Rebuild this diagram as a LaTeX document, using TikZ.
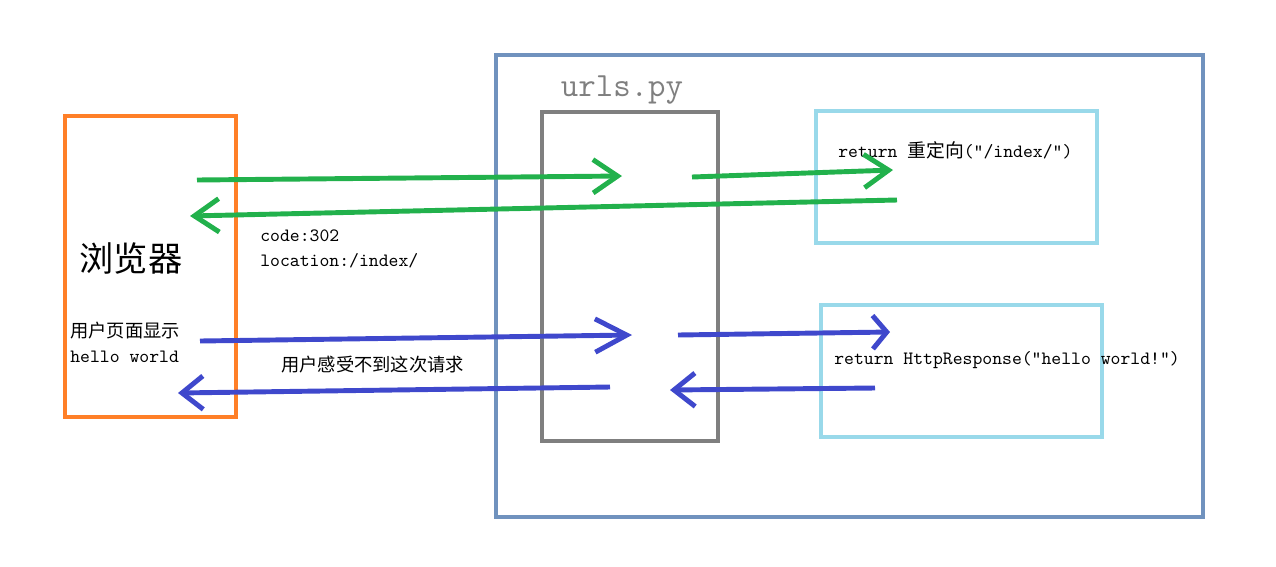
\documentclass[tikz,border=0pt]{standalone}
\usepackage{fontspec}
\setmainfont{Latin Modern Mono}
\newfontfamily\cjk{Noto Sans CJK SC}
\usetikzlibrary{arrows.meta}
\definecolor{browserorange}{RGB}{255,127,39}
\definecolor{serverblue}{RGB}{112,146,190}
\definecolor{urlsgray}{RGB}{127,127,127}
\definecolor{viewcyan}{RGB}{153,217,234}
\definecolor{redirgreen}{RGB}{34,177,76}
\definecolor{respblue}{RGB}{63,72,204}
\tikzset{
  frame/.style={draw=#1, line width=2.3pt},
  label/.style={anchor=west, inner sep=0pt, font=\fontsize{10.7}{12}\selectfont},
  greenarrow/.style={draw=redirgreen, line width=2.8pt,
    -{Straight Barb[length=#1, width=19pt]}},
  greenarrow/.default=14pt,
  bluearrow/.style={draw=respblue, line width=2.8pt,
    -{Straight Barb[length=#1, width=19pt]}},
  bluearrow/.default=12pt
}
\begin{document}
\begin{tikzpicture}[x=0.02cm, y=-0.02cm]
  \useasboundingbox (0,0) rectangle (1276,566);
  % boxes
  \draw[frame=serverblue] (496,55) rectangle (1203,517);
  \draw[frame=browserorange] (65,116) rectangle (236,417);
  \draw[frame=urlsgray] (542,112) rectangle (718,441);
  \draw[frame=viewcyan] (816,111) rectangle (1097,243);
  \draw[frame=viewcyan] (821,305) rectangle (1102,437);
  % texts
  \node[text=urlsgray, font=\fontsize{19.3}{22}\selectfont] (urls) at (622,90) {urls.py};
  \node[font=\cjk\fontsize{19.5}{22}\selectfont] (browser) at (131,258) {浏览器};
  \node[label, font=\cjk\fontsize{10.4}{12}\selectfont] (userpage) at (70,331) {用户页面显示};
  \node[label] (hello) at (70,357) {hello world};
  \node[label] (code) at (260,236) {code:302};
  \node[label] (location) at (260,261) {location:/index/};
  \node[label, font=\cjk\fontsize{10.4}{12}\selectfont] (unaware) at (281,365) {用户感受不到这次请求};
  \node[label] (redirect) at (838,150) {return {\cjk 重定向}(”/index/”)};
  \node[label] (response) at (834,360) {return HttpResponse(”hello world!”)};
  % arrow ends
  \coordinate (g1s) at (197,180);
  \coordinate (g1e) at (622,176);
  \coordinate (g2s) at (692,177);
  \coordinate (g2e) at (893,170);
  \coordinate (g3s) at (897,200);
  \coordinate (g3e) at (190,216);
  \coordinate (b1s) at (200,341);
  \coordinate (b1e) at (632,335);
  \coordinate (b2s) at (678,335);
  \coordinate (b2e) at (890,332);
  \coordinate (b3s) at (875,388);
  \coordinate (b3e) at (670,390);
  \coordinate (b4s) at (610,387);
  \coordinate (b4e) at (178,393);
  % redirect round trip
  \draw[greenarrow] (g1s) -- (g1e);
  \draw[greenarrow] (g2s) -- (g2e);
  \draw[greenarrow] (g3s) -- (g3e);
  % second request
  \draw[bluearrow=18pt] (b1s) -- (b1e);
  \draw[bluearrow=8pt] (b2s) -- (b2e);
  \draw[bluearrow] (b3s) -- (b3e);
  \draw[bluearrow] (b4s) -- (b4e);
\end{tikzpicture}
\end{document}
